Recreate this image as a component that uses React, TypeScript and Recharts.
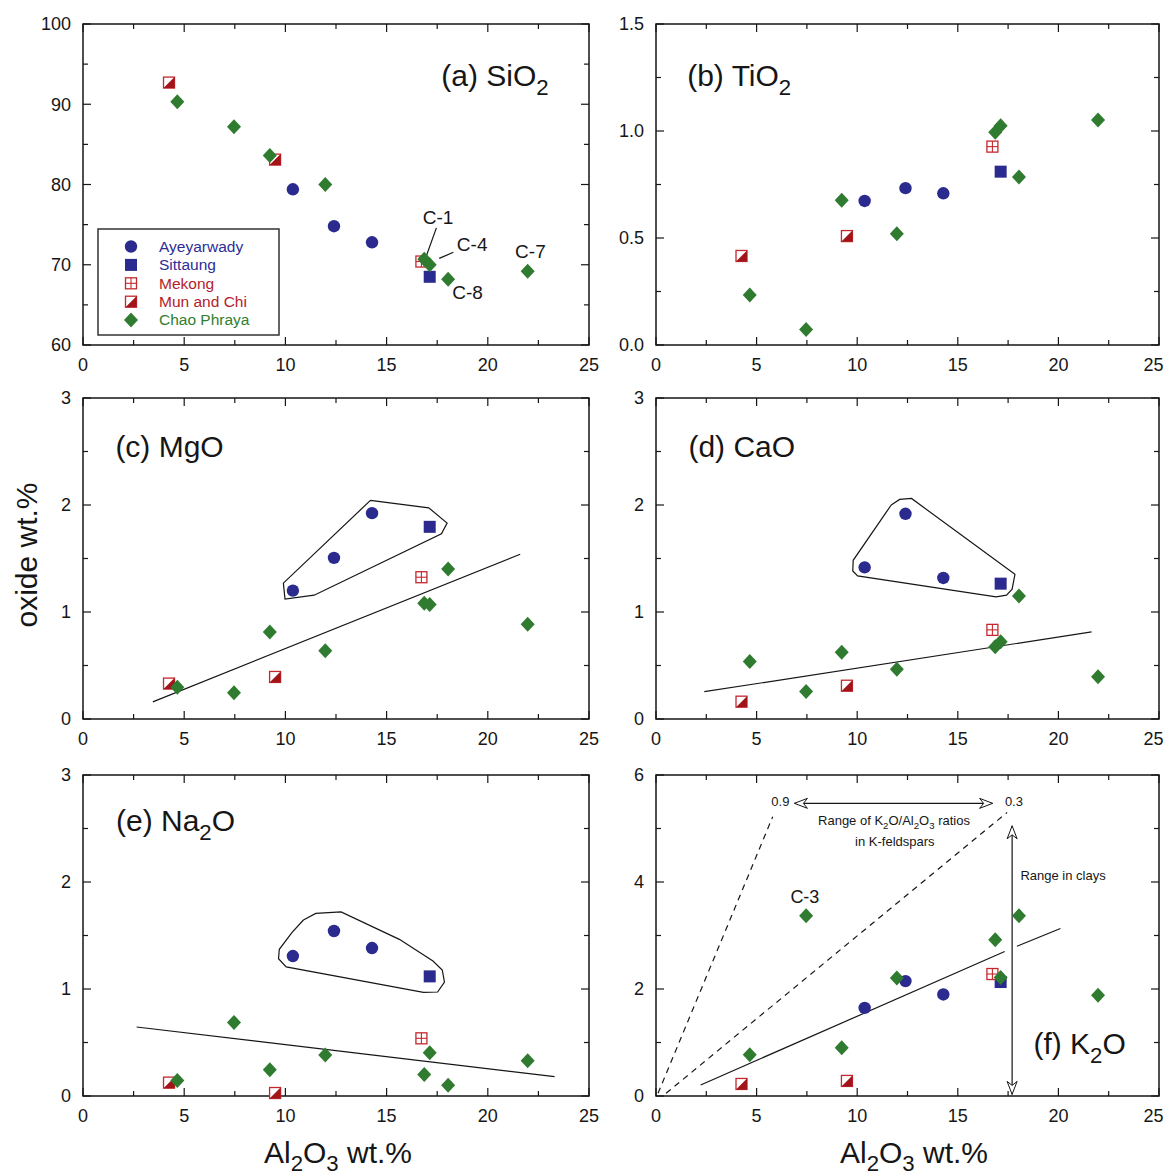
import React from 'react'
import { ScatterChart, Scatter, XAxis, YAxis, ReferenceArea, ReferenceLine, ReferenceDot } from 'recharts'

const FONT = '"Liberation Sans", Arial, Helvetica, sans-serif'
const INK = '#161616'
const NAVY = '#2b2a8e'
const GREEN = '#2f7b2f'
const RED = '#c4282e'
const DARK_RED = '#a11419'

// Al2O3 wt.% of every sample, per river
const AYE_AL = [10.37, 12.4, 14.28]
const SIT_AL = [17.13]
const MEK_AL = [16.72]
const MUN_AL = [4.25, 9.49]
const CHAO_AL = [4.66, 7.46, 9.23, 11.97, 16.86, 17.13, 18.04, 21.97]

// oxide wt.% in the same sample order
const SIO2_AYE = [79.4, 74.8, 72.8]
const SIO2_SIT = [68.5]
const SIO2_MEK = [70.4]
const SIO2_MUN = [92.7, 83.1]
const SIO2_CHAO = [90.3, 87.2, 83.6, 80.0, 70.7, 70.0, 68.2, 69.2]

const TIO2_AYE = [0.673, 0.733, 0.709]
const TIO2_SIT = [0.81]
const TIO2_MEK = [0.927]
const TIO2_MUN = [0.416, 0.509]
const TIO2_CHAO = [0.234, 0.073, 0.676, 0.52, 0.994, 1.025, 0.785, 1.051]

const MGO_AYE = [1.2, 1.506, 1.924]
const MGO_SIT = [1.796]
const MGO_MEK = [1.325]
const MGO_MUN = [0.331, 0.393]
const MGO_CHAO = [0.296, 0.246, 0.814, 0.639, 1.082, 1.07, 1.403, 0.886]

const CAO_AYE = [1.417, 1.918, 1.318]
const CAO_SIT = [1.265]
const CAO_MEK = [0.833]
const CAO_MUN = [0.162, 0.311]
const CAO_CHAO = [0.538, 0.258, 0.625, 0.466, 0.675, 0.721, 1.15, 0.395]

const NA2O_AYE = [1.308, 1.542, 1.383]
const NA2O_SIT = [1.118]
const NA2O_MEK = [0.539]
const NA2O_MUN = [0.125, 0.028]
const NA2O_CHAO = [0.146, 0.688, 0.246, 0.383, 0.2, 0.405, 0.1, 0.33]

const K2O_AYE = [1.647, 2.148, 1.898]
const K2O_SIT = [2.13]
const K2O_MEK = [2.28]
const K2O_MUN = [0.225, 0.282]
const K2O_CHAO = [0.77, 3.37, 0.902, 2.205, 2.92, 2.217, 3.37, 1.885]

// trend lines (Al2O3, oxide) end points
const MGO_FIT_X = [3.45, 21.6]
const MGO_FIT_Y = [0.16, 1.54]
const CAO_FIT_X = [2.4, 21.65]
const CAO_FIT_Y = [0.255, 0.814]
const NA2O_FIT_X = [2.65, 23.3]
const NA2O_FIT_Y = [0.645, 0.181]
const K2O_FIT_X = [2.22, 17.33, 17.94, 20.1]
const K2O_FIT_Y = [0.207, 2.7, 2.8, 3.13]

// outlines around the Ayeyarwady / Sittaung group
const MGO_HULL_X = [14.2, 17.08, 17.99, 17.71, 11.42, 9.98, 9.9, 14.2]
const MGO_HULL_Y = [2.043, 1.974, 1.831, 1.731, 1.157, 1.12, 1.27, 2.043]
const CAO_HULL_X = [11.69, 12.11, 12.7, 17.84, 17.7, 17.42, 16.9, 10.02, 9.78, 9.8, 11.69]
const CAO_HULL_Y = [2.0, 2.052, 2.061, 1.352, 1.213, 1.157, 1.141, 1.337, 1.384, 1.483, 2.0]
const NA2O_HULL_X = [10.89, 11.5, 12.75, 15.63, 17.29, 17.75, 17.86, 17.52, 16.82, 10.04, 9.66, 9.7, 10.32, 10.89]
const NA2O_HULL_Y = [1.645, 1.707, 1.72, 1.464, 1.262, 1.178, 1.065, 0.972, 0.969, 1.206, 1.283, 1.371, 1.526, 1.645]

// K-feldspar K2O/Al2O3 ratio lines (0.9 and 0.3)
const FELD_09_X = [0.1, 5.8]
const FELD_09_Y = [0.05, 5.22]
const FELD_03_X = [0.5, 17.45]
const FELD_03_Y = [0.05, 5.3]

const X_TICKS = [0, 2.5, 5, 7.5, 10, 12.5, 15, 17.5, 20, 22.5, 25]
const SIO2_TICKS = [60, 65, 70, 75, 80, 85, 90, 95, 100]
const TIO2_TICKS = [0, 0.25, 0.5, 0.75, 1, 1.25, 1.5]
const THREE_TICKS = [0, 0.5, 1, 1.5, 2, 2.5, 3]
const K2O_TICKS = [0, 1, 2, 3, 4, 5, 6]

// layout
const COL_X = [83, 656]
const COL_W = [506, 503]
const ROW_Y = [24, 398, 775]
const PLOT_H = 321
const Y_AXIS_W = 70
const X_AXIS_H = 40
const M_TOP = 10
const M_RIGHT = 16
const CHART_H = M_TOP + PLOT_H + X_AXIS_H
const LABEL_FS = 30

const pts = (xs: number[], ys: number[]) => xs.map((x, i) => ({ x, y: ys[i] }))

const circleShape = (p: any) => <circle cx={p.cx} cy={p.cy} r={6.2} fill={NAVY} />
const squareShape = (p: any) => <rect x={p.cx - 6} y={p.cy - 6} width={12} height={12} fill={NAVY} />
const mekongShape = (p: any) => (
  <g>
    <rect x={p.cx - 5.5} y={p.cy - 5.5} width={11} height={11} fill="#fff" stroke={RED} strokeWidth={1.3} />
    <line x1={p.cx} y1={p.cy - 5.5} x2={p.cx} y2={p.cy + 5.5} stroke={RED} strokeWidth={1.1} />
    <line x1={p.cx - 5.5} y1={p.cy} x2={p.cx + 5.5} y2={p.cy} stroke={RED} strokeWidth={1.1} />
  </g>
)
const munShape = (p: any) => (
  <g>
    <rect x={p.cx - 5.5} y={p.cy - 5.5} width={11} height={11} fill="#fff" stroke={RED} strokeWidth={1.3} />
    <polygon points={`${p.cx - 5.5},${p.cy + 5.5} ${p.cx + 5.5},${p.cy + 5.5} ${p.cx + 5.5},${p.cy - 5.5}`} fill={DARK_RED} />
  </g>
)
const diamondShape = (p: any) => (
  <polygon points={`${p.cx},${p.cy - 7.5} ${p.cx + 7},${p.cy} ${p.cx},${p.cy + 7.5} ${p.cx - 7},${p.cy}`} fill={GREEN} />
)
const noShape = () => <g />

const RIVERS = [
  { name: 'Ayeyarwady', al: AYE_AL, shape: circleShape, color: '#2e2d96' },
  { name: 'Sittaung', al: SIT_AL, shape: squareShape, color: '#2e2d96' },
  { name: 'Mekong', al: MEK_AL, shape: mekongShape, color: '#b3212a' },
  { name: 'Mun and Chi', al: MUN_AL, shape: munShape, color: '#b3212a' },
  { name: 'Chao Phraya', al: CHAO_AL, shape: diamondShape, color: '#2f7f2f' },
]

// text with "_2" style subscripts
function rich(s: string, fs: number, drop = 0.3) {
  const parts = s.split(/_(\d)/)
  const shift = fs * drop
  return parts.map((t, i) =>
    i % 2 === 1 ? (
      <tspan key={i} dy={shift} fontSize={fs * 0.74}>{t}</tspan>
    ) : (
      <tspan key={i} dy={i > 0 ? -shift : 0}>{t}</tspan>
    )
  )
}

const note = (key: string, x: number, y: number, text: string, fs: number, anchor = 'start') => (
  <ReferenceDot
    key={key}
    x={x}
    y={y}
    shape={(p: any) => (
      <text x={p.cx} y={p.cy} fontSize={fs} fontFamily={FONT} fill={INK} textAnchor={anchor}>
        {rich(text, fs)}
      </text>
    )}
  />
)

const seg = (key: string, xs: number[], ys: number[], i: number, dash?: string) => (
  <ReferenceLine
    key={key}
    segment={[{ x: xs[i], y: ys[i] }, { x: xs[i + 1], y: ys[i + 1] }]}
    stroke={INK}
    strokeWidth={1.2}
    strokeDasharray={dash}
  />
)

const hull = (key: string, xs: number[], ys: number[]) => (
  <Scatter key={key} data={pts(xs, ys)} line={{ stroke: INK, strokeWidth: 1.2 }} shape={noShape} isAnimationActive={false} />
)

const head = (tx: number, ty: number, ux: number, uy: number) => {
  const L = 13
  const W = 5
  const N = 9
  const nx = -uy
  const ny = ux
  const bx = tx - ux * L
  const by = ty - uy * L
  return (
    <polygon
      points={`${tx},${ty} ${bx + nx * W},${by + ny * W} ${tx - ux * N},${ty - uy * N} ${bx - nx * W},${by - ny * W}`}
      fill="#fff"
      stroke={INK}
      strokeWidth={1}
    />
  )
}

const doubleArrow = (p: any) => {
  const { x1, y1, x2, y2 } = p
  const len = Math.hypot(x2 - x1, y2 - y1) || 1
  const ux = (x2 - x1) / len
  const uy = (y2 - y1) / len
  return (
    <g>
      <line x1={x1} y1={y1} x2={x2} y2={y2} stroke={INK} strokeWidth={1.2} />
      {head(x2, y2, ux, uy)}
      {head(x1, y1, -ux, -uy)}
    </g>
  )
}

interface PanelProps {
  col: number
  row: number
  yDomain: [number, number]
  yTicks: number[]
  isMajor: (v: number) => boolean
  fmt: (v: number) => string
  values: number[][]
  children?: React.ReactNode
}

function Panel({ col, row, yDomain, yTicks, isMajor, fmt, values, children }: PanelProps) {
  const plotW = COL_W[col]
  const top = M_TOP
  const bottom = M_TOP + PLOT_H
  const left = Y_AXIS_W
  const right = Y_AXIS_W + plotW

  const xTick = (p: any) => {
    const v = p.payload.value
    const major = Math.abs(v % 5) < 1e-6
    const len = major ? 8 : 5
    // the last label of the right column is pulled in so it stays on the page
    const atEdge = col === 1 && v === 25
    return (
      <g>
        <line x1={p.x} y1={bottom} x2={p.x} y2={bottom - len} stroke={INK} strokeWidth={1.2} />
        <line x1={p.x} y1={top} x2={p.x} y2={top + len} stroke={INK} strokeWidth={1.2} />
        {major && (
          <text x={atEdge ? p.x + 4.5 : p.x} y={bottom + 26} textAnchor={atEdge ? 'end' : 'middle'}
            fontSize={18} fontFamily={FONT} fill={INK}>
            {v}
          </text>
        )}
      </g>
    )
  }

  const yTick = (p: any) => {
    const v = p.payload.value
    const major = isMajor(v)
    const len = major ? 8 : 5
    return (
      <g>
        <line x1={left} y1={p.y} x2={left + len} y2={p.y} stroke={INK} strokeWidth={1.2} />
        <line x1={right} y1={p.y} x2={right - len} y2={p.y} stroke={INK} strokeWidth={1.2} />
        {major && (
          <text x={left - 12} y={p.y + 6.4} textAnchor="end" fontSize={18} fontFamily={FONT} fill={INK}>
            {fmt(v)}
          </text>
        )}
      </g>
    )
  }

  return (
    <div style={{ position: 'absolute', left: COL_X[col] - Y_AXIS_W, top: ROW_Y[row] - M_TOP }}>
      <ScatterChart width={Y_AXIS_W + plotW + M_RIGHT} height={CHART_H}
        margin={{ top: M_TOP, right: M_RIGHT, bottom: 0, left: 0 }}>
        <XAxis type="number" dataKey="x" domain={[0, 25]} ticks={X_TICKS} interval={0} tick={xTick}
          tickLine={false} axisLine={false} height={X_AXIS_H} />
        <YAxis type="number" dataKey="y" domain={yDomain} ticks={yTicks} interval={0} tick={yTick}
          tickLine={false} axisLine={false} width={Y_AXIS_W} />
        <ReferenceArea x1={0} x2={25} y1={yDomain[0]} y2={yDomain[1]} fill="none" fillOpacity={0}
          stroke={INK} strokeWidth={1.5} />
        {children}
        {RIVERS.map((r, i) => (
          <Scatter key={r.name} name={r.name} data={pts(r.al, values[i])} shape={r.shape} isAnimationActive={false} />
        ))}
      </ScatterChart>
    </div>
  )
}

function LegendBox() {
  return (
    <svg width={183} height={108} style={{ position: 'absolute', left: 97, top: 228 }}>
      <rect x={1} y={1} width={181} height={106} fill="#fff" stroke="#333" strokeWidth={1.5} />
      {RIVERS.map((r, i) => {
        const cy = 18.5 + i * 18.4
        return (
          <g key={r.name}>
            {r.shape({ cx: 34, cy })}
            <text x={62} y={cy + 5.3} fontSize={15.5} fontFamily={FONT} fill={r.color}>
              {r.name}
            </text>
          </g>
        )
      })}
    </svg>
  )
}

const int = (v: number) => String(v)
const one = (v: number) => v.toFixed(1)

export default function App() {
  return (
    <div style={{ position: 'absolute', left: 0, top: 0, width: 1164, height: 1176, overflow: 'hidden', background: '#fff', fontFamily: FONT }}>
      <Panel col={0} row={0} yDomain={[60, 100]} yTicks={SIO2_TICKS} isMajor={(v) => v % 10 === 0} fmt={int}
        values={[SIO2_AYE, SIO2_SIT, SIO2_MEK, SIO2_MUN, SIO2_CHAO]}>
        {note('lab', 17.7, 92.3, '(a) SiO_2', LABEL_FS)}
        {note('c1', 17.54, 75.1, 'C-1', 19, 'middle')}
        {note('c4', 18.47, 71.76, 'C-4', 19)}
        {note('c8', 18.24, 65.7, 'C-8', 19)}
        {note('c7', 21.35, 70.8, 'C-7', 19)}
        {seg('l1', [17.46, 16.95], [74.6, 71.0], 0)}
        {seg('l4', [18.3, 17.6], [71.55, 70.8], 0)}
      </Panel>
      <Panel col={1} row={0} yDomain={[0, 1.5]} yTicks={TIO2_TICKS} isMajor={(v) => Math.abs((v * 2) % 1) < 1e-6} fmt={one}
        values={[TIO2_AYE, TIO2_SIT, TIO2_MEK, TIO2_MUN, TIO2_CHAO]}>
        {note('lab', 1.55, 1.21, '(b) TiO_2', LABEL_FS)}
      </Panel>
      <Panel col={0} row={1} yDomain={[0, 3]} yTicks={THREE_TICKS} isMajor={(v) => v % 1 === 0} fmt={int}
        values={[MGO_AYE, MGO_SIT, MGO_MEK, MGO_MUN, MGO_CHAO]}>
        {note('lab', 1.6, 2.45, '(c) MgO', LABEL_FS)}
        {seg('fit', MGO_FIT_X, MGO_FIT_Y, 0)}
        {hull('hull', MGO_HULL_X, MGO_HULL_Y)}
      </Panel>
      <Panel col={1} row={1} yDomain={[0, 3]} yTicks={THREE_TICKS} isMajor={(v) => v % 1 === 0} fmt={int}
        values={[CAO_AYE, CAO_SIT, CAO_MEK, CAO_MUN, CAO_CHAO]}>
        {note('lab', 1.61, 2.45, '(d) CaO', LABEL_FS)}
        {seg('fit', CAO_FIT_X, CAO_FIT_Y, 0)}
        {hull('hull', CAO_HULL_X, CAO_HULL_Y)}
      </Panel>
      <Panel col={0} row={2} yDomain={[0, 3]} yTicks={THREE_TICKS} isMajor={(v) => v % 1 === 0} fmt={int}
        values={[NA2O_AYE, NA2O_SIT, NA2O_MEK, NA2O_MUN, NA2O_CHAO]}>
        {note('lab', 1.63, 2.48, '(e) Na_2O', LABEL_FS)}
        {seg('fit', NA2O_FIT_X, NA2O_FIT_Y, 0)}
        {hull('hull', NA2O_HULL_X, NA2O_HULL_Y)}
      </Panel>
      <Panel col={1} row={2} yDomain={[0, 6]} yTicks={K2O_TICKS} isMajor={(v) => v % 2 === 0} fmt={int}
        values={[K2O_AYE, K2O_SIT, K2O_MEK, K2O_MUN, K2O_CHAO]}>
        {seg('f09', FELD_09_X, FELD_09_Y, 0, '6 5')}
        {seg('f03', FELD_03_X, FELD_03_Y, 0, '6 5')}
        {seg('fit1', K2O_FIT_X, K2O_FIT_Y, 0)}
        {seg('fit2', K2O_FIT_X, K2O_FIT_Y, 2)}
        <ReferenceLine segment={[{ x: 6.88, y: 5.47 }, { x: 16.73, y: 5.47 }]} shape={doubleArrow} />
        <ReferenceLine segment={[{ x: 17.7, y: 5.05 }, { x: 17.7, y: 0.03 }]} shape={doubleArrow} />
        {note('r09', 6.18, 5.42, '0.9', 13, 'middle')}
        {note('r03', 17.79, 5.42, '0.3', 13, 'middle')}
        {note('rng1', 11.83, 5.07, 'Range of K_2O/Al_2O_3 ratios', 13, 'middle')}
        {note('rng2', 11.87, 4.68, 'in K-feldspars', 13, 'middle')}
        {note('clay', 20.23, 4.03, 'Range in clays', 13, 'middle')}
        {note('c3', 7.4, 3.6, 'C-3', 18, 'middle')}
        {note('lab', 18.76, 0.78, '(f) K_2O', LABEL_FS)}
      </Panel>
      <LegendBox />
      <svg width={1164} height={1176} style={{ position: 'absolute', left: 0, top: 0, pointerEvents: 'none' }}>
        <text transform="translate(37,555) rotate(-90)" textAnchor="middle" fontSize={30} fontFamily={FONT} fill={INK}>
          oxide wt.%
        </text>
        <text x={338} y={1163} textAnchor="middle" fontSize={30} fontFamily={FONT} fill={INK}>
          {rich('Al_2O_3 wt.%', 30, 0.26)}
        </text>
        <text x={914} y={1163} textAnchor="middle" fontSize={30} fontFamily={FONT} fill={INK}>
          {rich('Al_2O_3 wt.%', 30, 0.26)}
        </text>
      </svg>
    </div>
  )
}
